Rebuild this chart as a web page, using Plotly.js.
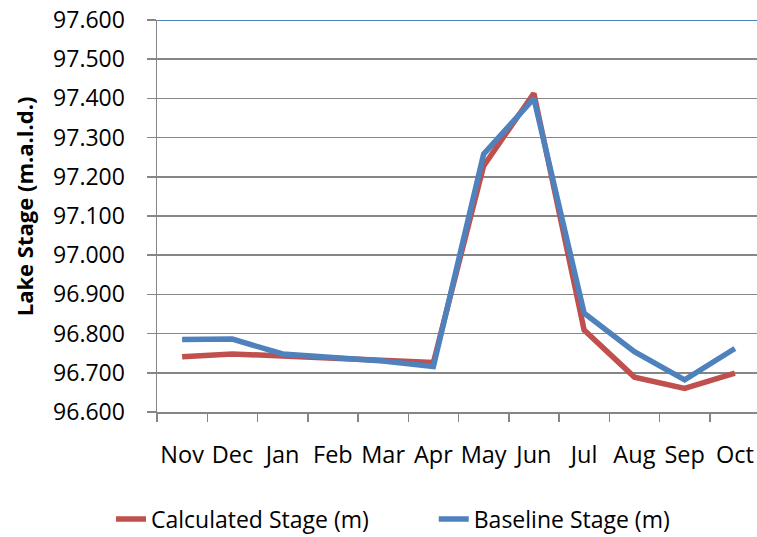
<!DOCTYPE html>
<html>
<head>
<meta charset="utf-8">
<script src="https://cdn.plot.ly/plotly-3.0.1.min.js"></script>
<style>html,body{margin:0;padding:0;background:#fff;}#chart{width:757px;height:537px;}</style>
</head>
<body>
<div id="chart"></div>
<script>
var months = ["Nov","Dec","Jan","Feb","Mar","Apr","May","Jun","Jul","Aug","Sep","Oct"];
var calculatedStage = [96.741, 96.748, 96.743, 96.738, 96.733, 96.726, 97.228, 97.413, 96.809, 96.689, 96.660, 96.699];
var baselineStage   = [96.785, 96.786, 96.748, 96.738, 96.730, 96.716, 97.258, 97.400, 96.852, 96.754, 96.682, 96.762];
var seriesNames = ["Calculated Stage (m)", "Baseline Stage (m)"];
var yTitle = "Lake Stage (m.a.l.d.)";

var font = "Open Sans, DejaVu Sans, sans-serif";
var traces = [
  {x: months, y: calculatedStage, name: seriesNames[0], type: "scatter", mode: "lines",
   line: {color: "#C0504D", width: 5.5}, legend: "legend"},
  {x: months, y: baselineStage, name: seriesNames[1], type: "scatter", mode: "lines",
   line: {color: "#4F81BD", width: 5.5}, legend: "legend2"}
];
var legendBase = {orientation: "h", xref: "container", xanchor: "left", yref: "container", y: 0.0335, yanchor: "middle",
                  font: {size: 23, family: font}, bgcolor: "rgba(0,0,0,0)", borderwidth: 0};
var layout = {
  width: 757, height: 537,
  margin: {l: 157, r: 0, t: 20, b: 125, autoexpand: false},
  paper_bgcolor: "#fff", plot_bgcolor: "#fff",
  font: {family: font, size: 23, color: "#000"},
  showlegend: true,
  legend: Object.assign({}, legendBase, {x: 0.1466}),
  legend2: Object.assign({}, legendBase, {x: 0.573}),
  xaxis: {type: "category", range: [-0.5, 11.44], showgrid: false, showline: true, linecolor: "#868686", linewidth: 1.5,
          ticks: "outside", tickson: "boundaries", ticklen: 8, tickcolor: "#868686", tickwidth: 1.5,
          tickangle: 0, ticklabelstandoff: 21, tickfont: {size: 23.5}, zeroline: false, fixedrange: true},
  yaxis: {range: [96.6, 97.6], dtick: 0.1, tick0: 96.6, tickformat: ".3f", showgrid: true, gridcolor: "#868686", gridwidth: 1.5,
          showline: true, linecolor: "#868686", linewidth: 1.5, ticks: "outside", ticklen: 9, tickcolor: "#868686", tickwidth: 1.5,
          ticklabelstandoff: 17, tickfont: {size: 23}, zeroline: false},
  annotations: [{text: "<b>" + yTitle + "</b>", xref: "paper", yref: "paper", x: -0.2216, y: 0.525,
                 xanchor: "center", yanchor: "middle", textangle: -90, showarrow: false, font: {size: 22, family: font}}],
  shapes: [{type: "line", xref: "paper", yref: "y", x0: 0, x1: 1, y0: 97.6, y1: 97.6, line: {color: "#4F81BD", width: 1.8}}]
};
Plotly.newPlot("chart", traces, layout, {displayModeBar: false, staticPlot: true});
</script>
</body>
</html>
